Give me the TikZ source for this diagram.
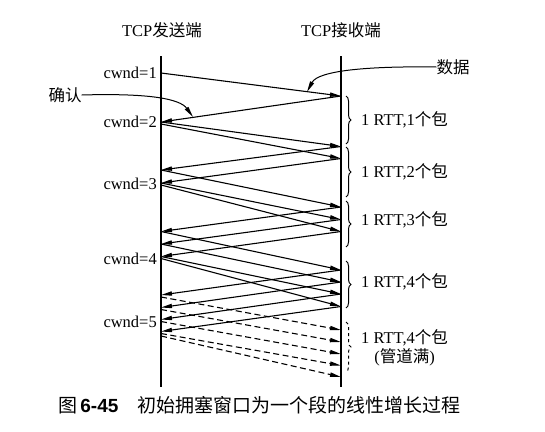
\documentclass[tikz,border=0pt]{standalone}
\usepackage{fontspec}
\setmainfont{Liberation Serif}
\newfontfamily\cjk{Noto Sans CJK SC}
\newfontfamily\capsans{Liberation Sans}
\usetikzlibrary{arrows.meta,decorations.pathreplacing}
\begin{document}
\begin{tikzpicture}[x=1pt,y=-1pt,
  every node/.style={font=\fontsize{16.5}{19}\selectfont, inner sep=0pt},
  pkt/.style={line width=1.1pt,-{Triangle[length=11pt,width=4.2pt]}},
  dpkt/.style={pkt,dash pattern=on 6pt off 3.5pt},
  lifeline/.style={line width=1.1pt},
  rttbrace/.style={decorate,decoration={brace,amplitude=5pt},line width=1pt},
  callout/.style={line width=1pt,-{Triangle[length=11pt,width=4.2pt]}},
  ]
\useasboundingbox (0,0) rectangle (545,431);
% lifelines
\coordinate (sTop) at (161,56); \coordinate (sBot) at (161,387);
\coordinate (rTop) at (341,56); \coordinate (rBot) at (341,387);
\draw[lifeline] (sTop) -- (sBot);
\draw[lifeline] (rTop) -- (rBot);
\node (hs) at (162,30) {TCP{\cjk 发送端}};
\node (hr) at (341,30) {TCP{\cjk 接收端}};
% sender events
\foreach \n/\y in {s1/73, s2/122, s2b/124, s3/170, s4/183, s4b/185,
  s5/231.5, s6/244, s7/256.5, s7b/258.5, s8/295, s9/307.5, s10/319.5, s11/331.5,
  s8d/297, s9d/309.5, s10d/321.5, s11d/333.5, s11e/336}
  {\coordinate (\n) at (161,\y);}
% receiver events
\foreach \n/\y in {r1/96, r2/146.5, r3/158.5, r4/207, r5/219.5, r6/231.5,
  r7/270, r8/282, r9/294, r10/306.5, r11/330, r12/342, r13/354, r14/365.5, r15/377}
  {\coordinate (\n) at (341,\y);}
% round 1
\draw[pkt] (s1) -- (r1);
\draw[pkt] (r1) -- (s2);
% round 2
\draw[pkt] (s2) -- (r2);
\draw[pkt] (s2b) -- (r3);
\draw[pkt] (r2) -- (s3);
\draw[pkt] (r3) -- (s4);
% round 3
\draw[pkt] (s3) -- (r4);
\draw[pkt] (s4) -- (r5);
\draw[pkt] (s4b) -- (r6);
\draw[pkt] (r4) -- (s5);
\draw[pkt] (r5) -- (s6);
\draw[pkt] (r6) -- (s7);
% round 4
\draw[pkt] (s5) -- (r7);
\draw[pkt] (s6) -- (r8);
\draw[pkt] (s7) -- (r9);
\draw[pkt] (s7b) -- (r10);
\draw[pkt] (r7) -- (s8);
\draw[pkt] (r8) -- (s9);
\draw[pkt] (r9) -- (s10);
\draw[pkt] (r10) -- (s11);
% round 5 (dashed)
\draw[dpkt] (s8d) -- (r11);
\draw[dpkt] (s9d) -- (r12);
\draw[dpkt] (s10d) -- (r13);
\draw[dpkt] (s11d) -- (r14);
\draw[dpkt] (s11e) -- (r15);
% cwnd labels
\node[anchor=east] (c1) at (157,73) {cwnd=1};
\node[anchor=east] (c2) at (157,122) {cwnd=2};
\node[anchor=east] (c3) at (157,184) {cwnd=3};
\node[anchor=east] (c4) at (157,259) {cwnd=4};
\node[anchor=east] (c5) at (157,322) {cwnd=5};
% braces
\coordinate (b1t) at (346,96);  \coordinate (b1b) at (346,144);
\coordinate (b2t) at (346,147); \coordinate (b2b) at (346,197);
\coordinate (b3t) at (346,201); \coordinate (b3b) at (346,247);
\coordinate (b4t) at (346,261); \coordinate (b4b) at (346,308);
\coordinate (b5t) at (346,322); \coordinate (b5b) at (346,372);
\draw[rttbrace] (b1t) -- (b1b);
\draw[rttbrace] (b2t) -- (b2b);
\draw[rttbrace] (b3t) -- (b3b);
\draw[rttbrace] (b4t) -- (b4b);
\draw[rttbrace,dashed] (b5t) -- (b5b);
\node[anchor=west] (l1) at (361,120) {1 RTT,1{\cjk 个包}};
\node[anchor=west] (l2) at (361,172) {1 RTT,2{\cjk 个包}};
\node[anchor=west] (l3) at (361,220) {1 RTT,3{\cjk 个包}};
\node[anchor=west] (l4) at (361,282) {1 RTT,4{\cjk 个包}};
\node[anchor=west,align=center] (l5) at (361,348) {1 RTT,4{\cjk 个包}\\({\cjk 管道满})};
% callouts
\node (ack) at (65,95) {\cjk 确认};
\node (dat) at (453,67) {\cjk 数据};
\coordinate (ackTip) at (193,117);
\coordinate (datTip) at (307,92);
\draw[callout] (ack.east) .. controls (150,93) and (180,99) .. (ackTip);
\draw[callout] (dat.west) .. controls (365,66) and (318,71) .. (datTip);
% caption
\node[anchor=west,font=\fontsize{19}{22}\selectfont] (cap) at (58,405) {{\cjk 图}\,{\capsans\bfseries 6-45}\hspace{1em}{\cjk 初始拥塞窗口为一个段的线性增长过程}};
\end{tikzpicture}
\end{document}
